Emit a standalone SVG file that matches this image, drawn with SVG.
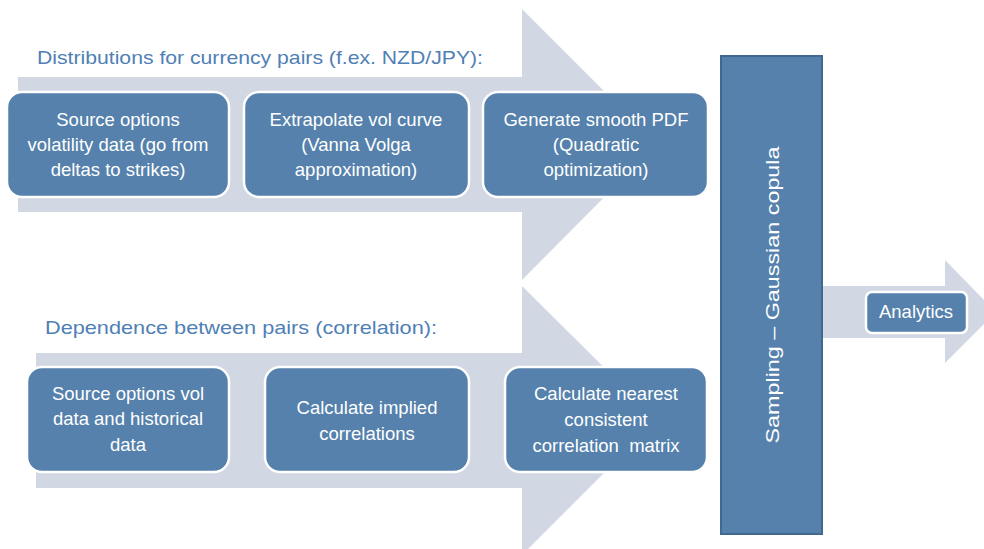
<svg xmlns="http://www.w3.org/2000/svg" width="984" height="549" viewBox="0 0 984 549">
<style>
.arr{fill:#D1D7E3;}
.box{fill:#5581AC;stroke:#FFFFFF;stroke-width:2.5;}
.t{font-family:"Liberation Sans",Arial,sans-serif;fill:#FFFFFF;font-size:18.5px;text-anchor:middle;}
.h{font-family:"Liberation Sans",Arial,sans-serif;fill:#4F80B5;font-size:18.5px;}
</style>
<rect width="984" height="549" fill="#FFFFFF"/>
<g id="connectors">
<polygon class="arr" points="18,77 522,77 522,9 657,144 522,280 522,212 18,212"/>
<polygon class="arr" points="36,353 522,353 522,286 657,420 522,555 522,488 36,488"/>
<polygon class="arr" points="822,286 945,286 945,260 984,300 984,324 945,363 945,338 822,338"/>
</g>
<g id="header1"><text class="h" x="37" y="64" textLength="446" lengthAdjust="spacingAndGlyphs">Distributions for currency pairs (f.ex. NZD/JPY):</text></g>
<g id="header2"><text class="h" x="45" y="334" textLength="392" lengthAdjust="spacingAndGlyphs">Dependence between pairs (correlation):</text></g>
<g id="n1"><rect class="box" x="7" y="92" width="222" height="105" rx="15"/>
<text class="t" x="118" y="126">Source options</text><text class="t" x="118" y="151">volatility data (go from</text><text class="t" x="118" y="176">deltas to strikes)</text></g>
<g id="n2"><rect class="box" x="244" y="92" width="225" height="105" rx="15"/>
<text class="t" x="356" y="126">Extrapolate vol curve</text><text class="t" x="356" y="151">(Vanna Volga</text><text class="t" x="356" y="176">approximation)</text></g>
<g id="n3"><rect class="box" x="483" y="92" width="225" height="105" rx="15"/>
<text class="t" x="596" y="126">Generate smooth PDF</text><text class="t" x="596" y="151">(Quadratic</text><text class="t" x="596" y="176">optimization)</text></g>
<g id="n4"><rect class="box" x="27" y="367" width="202" height="105" rx="15"/>
<text class="t" x="128" y="400">Source options vol</text><text class="t" x="128" y="425">data and historical</text><text class="t" x="128" y="451">data</text></g>
<g id="n5"><rect class="box" x="265" y="367" width="204" height="105" rx="15"/>
<text class="t" x="367" y="414">Calculate implied</text><text class="t" x="367" y="440">correlations</text></g>
<g id="n6"><rect class="box" x="505" y="367" width="202" height="105" rx="15"/>
<text class="t" x="606" y="400">Calculate nearest</text><text class="t" x="606" y="426">consistent</text><text class="t" x="606" y="452" xml:space="preserve">correlation  matrix</text></g>
<g id="sampling"><rect x="721" y="56" width="101" height="478" fill="#5581AC" stroke="#41688F" stroke-width="2"/>
<text class="t" x="0" y="0" font-size="21" transform="translate(779,295) rotate(-90)" textLength="297" lengthAdjust="spacingAndGlyphs">Sampling – Gaussian copula</text></g>
<g id="analytics"><rect class="box" x="866" y="292" width="101" height="41" rx="6"/>
<text class="t" x="916" y="318" font-size="17">Analytics</text></g>
</svg>
